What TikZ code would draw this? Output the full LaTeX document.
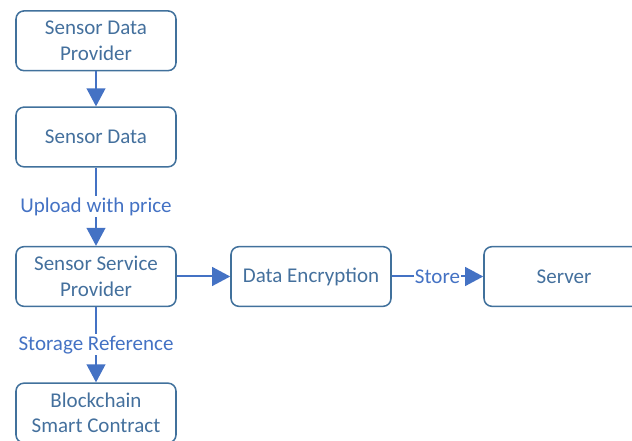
\documentclass[tikz,border=0pt]{standalone}
\usepackage{fontspec}
\setmainfont{Carlito}
\usetikzlibrary{arrows.meta}
\definecolor{boxline}{HTML}{41719C}
\definecolor{boxtext}{HTML}{44709D}
\definecolor{flowc}{HTML}{4472C4}
\begin{document}
\begin{tikzpicture}[x=0.75pt,y=-0.75pt,
  box/.style={draw=boxline, line width=1.15pt, rounded corners=6pt,
    minimum width=120pt, minimum height=44.8pt, inner sep=0pt,
    align=center, text=boxtext, font=\fontsize{15.75}{19}\selectfont},
  flow/.style={draw=flowc, line width=1.5pt,
    -{Triangle[length=13.5pt,width=14pt]}},
  lbl/.style={fill=white, text=flowc, inner xsep=0.5pt, inner ysep=1pt,
    font=\fontsize{15.75}{19}\selectfont}]
\useasboundingbox (0,0) rectangle (632,441);
\clip (0,0) rectangle (632,441);

% boxes
\node[box] (sdp) at (96,40.8)  {Sensor Data\\Provider};
\node[box] (sd)  at (96,137)   {Sensor Data};
\node[box] (ssp) at (96,276.5) {Sensor Service\\Provider};
\node[box] (bsc) at (96,413)   {Blockchain\\Smart Contract};
\node[box] (enc) at (311,276.5) {Data Encryption};
\node[box] (srv) at (564,276.5) {Server};

% connectors
\draw[flow] (sdp) -- (sd);
\draw[flow] (sd) -- node[lbl] {Upload with price} (ssp);
\draw[flow] (ssp) -- node[lbl] {Storage Reference} (bsc);
\draw[flow] (ssp) -- (enc);
\draw[flow] (enc) -- node[lbl] {Store} (srv);
\end{tikzpicture}
\end{document}
